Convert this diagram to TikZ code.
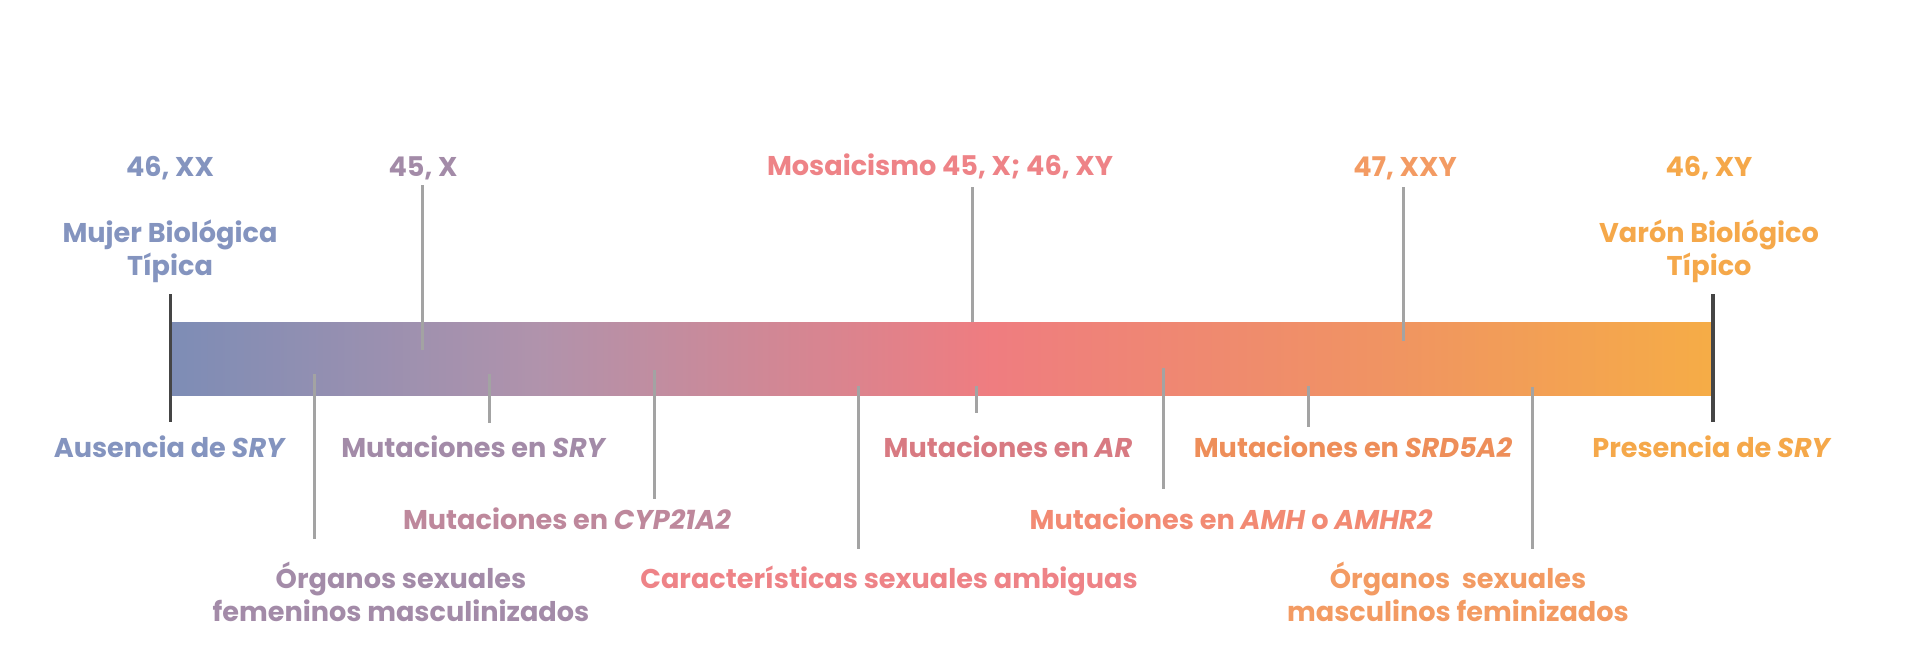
\documentclass[tikz,border=0pt]{standalone}
\usepackage{fontspec}
\setmainfont{Poppins}[UprightFont=* Bold, ItalicFont=* Bold Italic, BoldFont=* Bold]
\usetikzlibrary{positioning}

\definecolor{cBlue}{HTML}{8494BF}
\definecolor{cMauve}{HTML}{A38BA8}
\definecolor{cMauveB}{HTML}{BE889C}
\definecolor{cPink}{HTML}{EE8387}
\definecolor{cRose}{HTML}{D87A82}
\definecolor{cSalmon}{HTML}{F28A73}
\definecolor{cOrangeA}{HTML}{EE8E59}
\definecolor{cOrangeB}{HTML}{F39B63}
\definecolor{cOrange}{HTML}{F5A84A}
\definecolor{cTick}{HTML}{A3A3A3}
\definecolor{cEnd}{HTML}{454545}

\newcommand{\lblfont}{\fontsize{10.85}{13.2}\selectfont\lineskiplimit=-20pt\relax}

\pgfdeclarehorizontalshading{barshade}{100bp}{%
  color(0bp)=(cBlue!90!cyan!80!black);
  color(25bp)=(cBlue!95!black);
  color(37bp)=(cMauve!85!pink);
  color(51.5bp)=(cPink!95!red);
  color(64bp)=(cOrangeA!90!pink);
  color(75bp)=(cOrange!95!yellow);
  color(100bp)=(cOrange!95!yellow)}

\begin{document}
\begin{tikzpicture}[x=0.4pt, y=-0.4pt]
\tikzset{
  lbl/.style={anchor=base, inner sep=0pt, align=center, font=\lblfont},
  tick/.style={draw=cTick, line width=1.2pt},
  endline/.style={draw=cEnd, line width=1.3pt}
}
\useasboundingbox (0,0) rectangle (1907,660);

% gradient bar
\node[shade, shading=barshade, anchor=north west, inner sep=0pt,
      minimum width=616.6pt, minimum height=29.2pt] (bar) at (170.5,322) {};

% row 1 : karyotypes
\node[lbl, text=cBlue]   (xx)  at (170,176)  {46, XX};
\node[lbl, text=cMauve]  (x)   at (423,176)  {45, X};
\node[lbl, text=cPink]   (mos) at (940,175)  {Mosaicismo 45, X; 46, XY};
\node[lbl, text=cOrangeB] (xxy) at (1405,176) {47, XXY};
\node[lbl, text=cOrange] (xy)  at (1709,176) {46, XY};

% row 2 : extremes
\node[lbl, text=cBlue]   (mujer) at (170,275)  {Mujer Biológica\\Típica};
\node[lbl, text=cOrange] (varon) at (1709,275) {Varón Biológico\\Típico};

% row 3 : first line below the bar
\node[lbl, text=cBlue]    (aus)  at (170,457)  {Ausencia de \textit{SRY}};
\node[lbl, text=cMauve]   (msry) at (474,457)  {Mutaciones en \textit{SRY}};
\node[lbl, text=cRose]    (mar)  at (1008,457) {Mutaciones en \textit{AR}};
\node[lbl, text=cOrangeA] (msrd) at (1353,457) {Mutaciones en \textit{SRD5A2}};
\node[lbl, text=cOrange]  (pres) at (1712,457) {Presencia de \textit{SRY}};

% row 4
\node[lbl, text=cMauveB] (mcyp) at (567,529)  {Mutaciones en \textit{CYP21A2}};
\node[lbl, text=cSalmon] (mamh) at (1231,529) {Mutaciones en \textit{AMH} o \textit{AMHR2}};

% row 5
\node[lbl, text=cMauve]   (ofem) at (401,621)  {Órganos sexuales\\femeninos masculinizados};
\node[lbl, text=cPink]    (amb)  at (889,588)  {Características sexuales ambiguas};
\node[lbl, text=cOrangeB] (omas) at (1458,621) {Órganos\ \ sexuales\\masculinos feminizados};

% ticks
\foreach \n/\tx/\ta/\tb in {x/422/185/350, mos/972/187/322, xxy/1403.5/187/341,
    ofem/314/374/539, msry/489.5/374/423, mcyp/654/370/499, amb/858/386/549,
    mar/976/386/413, mamh/1163/368/489, msrd/1308/386/427, omas/1532.5/387/549}{
  \coordinate (\n-a) at (\tx,\ta);
  \coordinate (\n-b) at (\tx,\tb);
  \draw[tick] (\n-a) -- (\n-b);
}

% ends of the scale
\coordinate (L-a) at (bar.north west |- 0,294);
\coordinate (L-b) at (bar.north west |- 0,422);
\coordinate (R-a) at (bar.north east |- 0,294);
\coordinate (R-b) at (bar.north east |- 0,422);
\draw[endline] (L-a) -- (L-b);
\draw[endline] (R-a) -- (R-b);

\end{tikzpicture}
\end{document}
